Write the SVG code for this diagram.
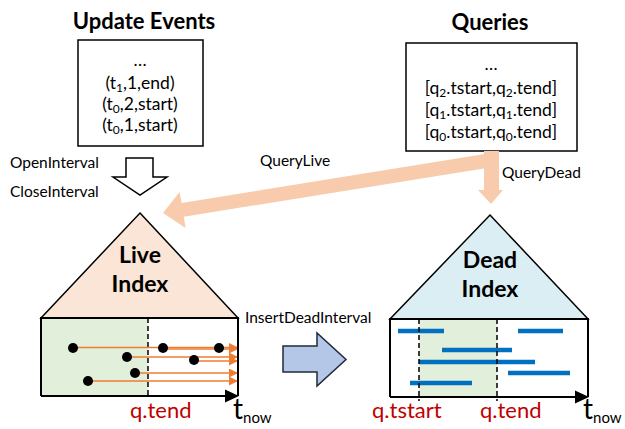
<svg xmlns="http://www.w3.org/2000/svg" width="625" height="429" viewBox="0 0 625 429">
<defs>
<style>
text{font-family:Lato,"Liberation Sans",sans-serif;fill:#000}
.title{font-size:22px;font-weight:bold;text-anchor:middle}
.box{fill:#fff;stroke:#000;stroke-width:1.5}
.line{font-size:17.5px;text-anchor:middle}
.lbl{font-size:15.5px}
.idx{font-size:23px;font-weight:bold;text-anchor:middle}
.red{font-size:22px;fill:#C00000}
.tn{font-size:28px}
.sub{font-size:15px}
.tri{stroke:#000;stroke-width:1.5}
.frame{fill:none;stroke:#000;stroke-width:2}
.dash{stroke:#000;stroke-width:1.5;stroke-dasharray:5 3}
.oline{stroke:#ED7D31;stroke-width:1.5;fill:none}
.bar{stroke:#0070C0;stroke-width:4.5}
.peach{fill:#F8CBAD}
</style>
<marker id="oa" viewBox="0 0 10 10" refX="10" refY="5" markerWidth="6" markerHeight="6" markerUnits="strokeWidth" orient="auto">
<path d="M0,0 L10,5 L0,10 z" fill="#ED7D31"/>
</marker>
</defs>

<g id="update-events">
<text class="title" x="144" y="29">Update Events</text>
<rect class="box" x="78" y="40" width="125" height="106"/>
<text class="line" x="140" y="66" font-size="13">…</text>
<text class="line" x="140" y="89">(t<tspan font-size="12" dy="3">1</tspan><tspan dy="-3">,1,end)</tspan></text>
<text class="line" x="140" y="110">(t<tspan font-size="12" dy="3">0</tspan><tspan dy="-3">,2,start)</tspan></text>
<text class="line" x="140" y="131">(t<tspan font-size="12" dy="3">0</tspan><tspan dy="-3">,1,start)</tspan></text>
</g>

<g id="queries">
<text class="title" x="490" y="30">Queries</text>
<rect class="box" x="406" y="43" width="171" height="108"/>
<text class="line" x="491" y="70" font-size="13">…</text>
<text class="line" x="491" y="94">[q<tspan font-size="12" dy="3">2</tspan><tspan dy="-3">.tstart,q</tspan><tspan font-size="12" dy="3">2</tspan><tspan dy="-3">.tend]</tspan></text>
<text class="line" x="491" y="116">[q<tspan font-size="12" dy="3">1</tspan><tspan dy="-3">.tstart,q</tspan><tspan font-size="12" dy="3">1</tspan><tspan dy="-3">.tend]</tspan></text>
<text class="line" x="491" y="138">[q<tspan font-size="12" dy="3">0</tspan><tspan dy="-3">.tstart,q</tspan><tspan font-size="12" dy="3">0</tspan><tspan dy="-3">.tend]</tspan></text>
</g>

<g id="live-index">
<polygon class="tri" points="140,213 238,318 41,318" fill="#FBE5D6"/>
<text class="idx" x="140" y="263">Live</text>
<text class="idx" x="140" y="292">Index</text>
<rect x="41" y="318" width="107" height="78" fill="#E2EFDA"/>
<line class="dash" x1="148" y1="318" x2="148" y2="396"/>
<g>
<line class="oline" x1="73" y1="347.5" x2="238" y2="347.5" marker-end="url(#oa)"/>
<line class="oline" x1="163" y1="349" x2="238" y2="349" marker-end="url(#oa)"/>
<line class="oline" x1="127" y1="357" x2="238" y2="357" marker-end="url(#oa)"/>
<line class="oline" x1="194" y1="361" x2="238" y2="361" marker-end="url(#oa)"/>
<line class="oline" x1="135" y1="373" x2="238" y2="373" marker-end="url(#oa)"/>
<line class="oline" x1="88" y1="381" x2="238" y2="381" marker-end="url(#oa)"/>
</g>
<g fill="#000">
<circle cx="73" cy="348" r="5"/>
<circle cx="163" cy="348" r="5"/>
<circle cx="219" cy="348" r="5"/>
<circle cx="127" cy="357" r="5"/>
<circle cx="194" cy="360" r="5"/>
<circle cx="135" cy="373" r="5"/>
<circle cx="88" cy="381" r="5"/>
</g>
<path class="frame" d="M41,396 V318 H238 V396"/>
<line x1="41" y1="396" x2="227" y2="396" stroke="#000" stroke-width="2"/>
<polygon points="225,389.5 239,396 225,402.5" fill="#000"/>
<text class="red" x="130" y="418">q.tend</text>
<text x="233" y="419"><tspan class="tn">t</tspan><tspan class="sub" dy="4">now</tspan></text>
</g>

<g id="dead-index">
<polygon class="tri" points="490,215 588,319 390,319" fill="#DAEEF3"/>
<text class="idx" x="490" y="268">Dead</text>
<text class="idx" x="490" y="297">Index</text>
<rect x="419" y="319" width="78" height="78" fill="#E2EFDA"/>
<g class="bar">
<line x1="398" y1="331" x2="444" y2="331"/>
<line x1="518" y1="331" x2="563" y2="331"/>
<line x1="442" y1="350" x2="512" y2="350"/>
<line x1="419" y1="362" x2="535" y2="362"/>
<line x1="508" y1="373" x2="570" y2="373"/>
<line x1="410" y1="383" x2="472" y2="383"/>
</g>
<line class="dash" x1="419" y1="319" x2="419" y2="401"/>
<line class="dash" x1="497" y1="319" x2="497" y2="401"/>
<path class="frame" d="M390,397 V319 H588 V397"/>
<line x1="390" y1="397" x2="577" y2="397" stroke="#000" stroke-width="2"/>
<polygon points="575,390.5 589,397 575,403.5" fill="#000"/>
<text class="red" x="372" y="418">q.tstart</text>
<text class="red" x="480" y="418">q.tend</text>
<text x="583" y="419"><tspan class="tn">t</tspan><tspan class="sub" dy="4">now</tspan></text>
</g>

<g id="connectors">
<polygon points="126,158 153,158 153,177 167,177 140,195 113,177 126,177" fill="#fff" stroke="#000" stroke-width="1.5"/>
<polygon class="peach" points="490.9,153.1 493.1,166.9 183.9,216.7 185.5,228 163,213 179.5,192 181.7,202.9"/>
<polygon class="peach" points="484,151 499,151 499,190 503,190 491,204 478,190 484,190"/>
<polygon points="283,346 317,346 317,333 346,359.5 317,386 317,372 283,372" fill="#B4C7E7" stroke="#1F2A3A" stroke-width="1.5"/>
</g>

<g id="labels">
<text class="lbl" x="10" y="168">OpenInterval</text>
<text class="lbl" x="10" y="197">CloseInterval</text>
<text class="lbl" x="260" y="166">QueryLive</text>
<text class="lbl" x="502" y="178">QueryDead</text>
<text class="lbl" x="245" y="323">InsertDeadInterval</text>
</g>
</svg>
